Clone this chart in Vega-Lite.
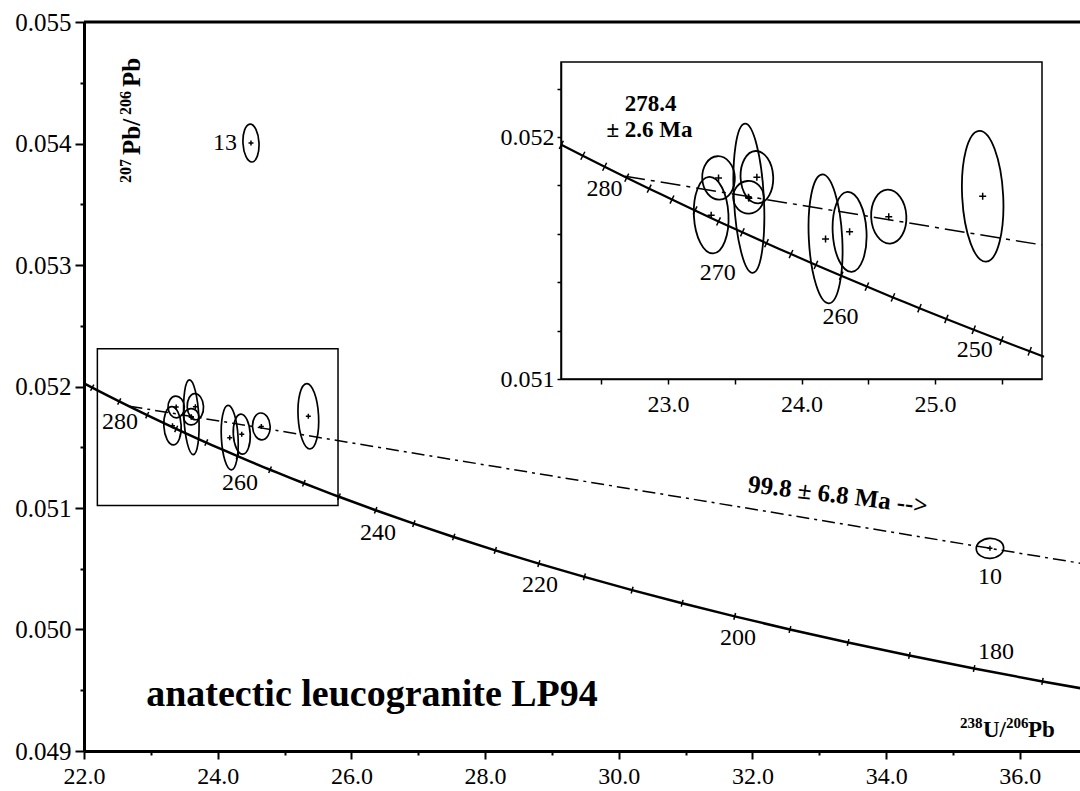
{
  "$schema": "https://vega.github.io/schema/vega-lite/v6.json",
  "autosize": "none",
  "width": 996,
  "height": 729,
  "padding": {"left": 84, "top": 22, "right": 0, "bottom": 40},
  "background": "white",
  "config": {
    "view": {"stroke": null},
    "axis": {"grid": false, "labelFont": "Liberation Serif", "labelColor": "black", "domainColor": "black", "tickColor": "black", "labelFontSize": 24},
    "text": {"font": "Liberation Serif", "color": "black"}
  },
  "datasets": {
    "concordia": [
      {"age": 290, "x": 21.7328, "y": 0.0521045},
      {"age": 286, "x": 22.0436, "y": 0.0520131},
      {"age": 285, "x": 22.1227, "y": 0.0519906},
      {"age": 284, "x": 22.2023, "y": 0.0519679},
      {"age": 282, "x": 22.3633, "y": 0.0519225},
      {"age": 280, "x": 22.5265, "y": 0.0518771},
      {"age": 278, "x": 22.6920, "y": 0.0518319},
      {"age": 276, "x": 22.8602, "y": 0.0517866},
      {"age": 275, "x": 22.9450, "y": 0.0517641},
      {"age": 274, "x": 23.0306, "y": 0.0517414},
      {"age": 272, "x": 23.2035, "y": 0.0516966},
      {"age": 270, "x": 23.3790, "y": 0.0516511},
      {"age": 268, "x": 23.5573, "y": 0.0516061},
      {"age": 266, "x": 23.7381, "y": 0.0515612},
      {"age": 265, "x": 23.8295, "y": 0.0515387},
      {"age": 264, "x": 23.9216, "y": 0.0515163},
      {"age": 262, "x": 24.1080, "y": 0.0514715},
      {"age": 260, "x": 24.2973, "y": 0.0514268},
      {"age": 258, "x": 24.4894, "y": 0.0513819},
      {"age": 256, "x": 24.6846, "y": 0.0513372},
      {"age": 255, "x": 24.7834, "y": 0.0513148},
      {"age": 254, "x": 24.8829, "y": 0.0512925},
      {"age": 252, "x": 25.0843, "y": 0.0512480},
      {"age": 250, "x": 25.2889, "y": 0.0512035},
      {"age": 248, "x": 25.4968, "y": 0.0511590},
      {"age": 246, "x": 25.7081, "y": 0.0511145},
      {"age": 245, "x": 25.8150, "y": 0.0510923},
      {"age": 240, "x": 26.3631, "y": 0.0509817},
      {"age": 235, "x": 26.9346, "y": 0.0508710},
      {"age": 230, "x": 27.5308, "y": 0.0507612},
      {"age": 225, "x": 28.1536, "y": 0.0506515},
      {"age": 220, "x": 28.8047, "y": 0.0505421},
      {"age": 215, "x": 29.4861, "y": 0.0504330},
      {"age": 210, "x": 30.1999, "y": 0.0503243},
      {"age": 205, "x": 30.9486, "y": 0.0502159},
      {"age": 200, "x": 31.7346, "y": 0.0501079},
      {"age": 195, "x": 32.5610, "y": 0.0500002},
      {"age": 190, "x": 33.4310, "y": 0.0498927},
      {"age": 185, "x": 34.3479, "y": 0.0497857},
      {"age": 180, "x": 35.3157, "y": 0.0496791},
      {"age": 175, "x": 36.3389, "y": 0.0495726},
      {"age": 170, "x": 37.4223, "y": 0.0494665}
    ],
    "ellipses": [
      {"id": "A", "x": 23.324, "y": 0.051677},
      {"id": "B", "x": 23.379, "y": 0.051831},
      {"id": "C", "x": 23.606, "y": 0.051747},
      {"id": "D", "x": 23.666, "y": 0.051834},
      {"id": "E", "x": 23.603, "y": 0.051751},
      {"id": "F", "x": 24.18, "y": 0.051579},
      {"id": "G", "x": 24.36, "y": 0.051608},
      {"id": "H", "x": 24.653, "y": 0.051671},
      {"id": "I", "x": 25.356, "y": 0.051755},
      {"id": "13", "x": 24.498, "y": 0.054004},
      {"id": "10", "x": 35.553, "y": 0.050668}
    ]
  },
  "resolve": {"scale": {"x": "independent", "y": "independent"}},
  "layer": [
    {
      "layer": [
        {
          "data": {"name": "concordia"},
          "mark": {"type": "line", "color": "black", "strokeWidth": 2.5, "clip": true},
          "encoding": {
            "x": {"field": "x", "type": "quantitative", "scale": {"domain": [22, 36.9], "nice": false, "zero": false},
              "axis": {"orient": "bottom", "title": null, "values": [22,24,26,28,30,32,34,36], "format": ".1f",
                "labelFont": "Liberation Serif", "labelFontSize": 24, "labelColor": "black",
                "tickSize": 8, "tickWidth": 2, "domainWidth": 3, "labelPadding": 5, "labelFlush": false, "labelOverlap": false}},
            "y": {"field": "y", "type": "quantitative", "scale": {"domain": [0.049, 0.055], "nice": false, "zero": false},
              "axis": {"orient": "left", "title": null, "values": [0.049,0.05,0.051,0.052,0.053,0.054,0.055], "format": ".3f",
                "labelFont": "Liberation Serif", "labelFontSize": 25, "labelColor": "black",
                "tickSize": 9, "tickWidth": 2, "domainWidth": 3, "labelPadding": 4, "labelFlush": false, "labelOverlap": false}},
            "order": {"field": "x", "type": "quantitative"}
          }
        },
        {
          "data": {"name": "concordia"},
          "transform": [{"filter": "datum.age % 5 == 0 && datum.x >= 22 && datum.x <= 36.9"}],
          "mark": {"type": "point", "shape": "M0,-1L0,1", "size": 49, "filled": false, "stroke": "black", "strokeWidth": 1.5, "opacity": 1},
          "encoding": {
            "x": {"field": "x", "type": "quantitative", "scale": {"domain": [22, 36.9], "nice": false, "zero": false}},
            "y": {"field": "y", "type": "quantitative", "scale": {"domain": [0.049, 0.055], "nice": false, "zero": false}},
            "angle": {"field": "age", "type": "quantitative", "scale": {"domain": [180, 280], "range": [11, 26.6]}, "legend": null}
          }
        },
        {
          "data": {"values": [{"x": 22.68, "y": 0.051838}, {"x": 36.9, "y": 0.050546}]},
          "mark": {"type": "line", "color": "black", "strokeWidth": 1.5, "strokeDash": [13, 5, 3, 5], "clip": true},
          "encoding": {
            "x": {"field": "x", "type": "quantitative", "scale": {"domain": [22, 36.9], "nice": false, "zero": false}},
            "y": {"field": "y", "type": "quantitative", "scale": {"domain": [0.049, 0.055], "nice": false, "zero": false}}
          }
        },
        {
          "data": {"values": [{"x1": 22.2, "x2": 25.8, "y1": 0.05102, "y2": 0.05231}]},
          "mark": {"type": "rect", "filled": false, "stroke": "black", "strokeWidth": 1.5},
          "encoding": {
            "x": {"field": "x1", "type": "quantitative", "scale": {"domain": [22, 36.9], "nice": false, "zero": false}},
            "x2": {"field": "x2"},
            "y": {"field": "y1", "type": "quantitative", "scale": {"domain": [0.049, 0.055], "nice": false, "zero": false}},
            "y2": {"field": "y2"}
          }
        },
        {
          "data": {"name": "ellipses"},
          "mark": {"type": "point", "size": 10000, "angle": -3, "filled": false, "stroke": "black", "strokeWidth": 1.7, "opacity": 1},
          "encoding": {
            "x": {"field": "x", "type": "quantitative", "scale": {"domain": [22, 36.9], "nice": false, "zero": false}},
            "y": {"field": "y", "type": "quantitative", "scale": {"domain": [0.049, 0.055], "nice": false, "zero": false}},
            "shape": {"field": "id", "type": "nominal", "legend": null, "scale": {
              "domain": ["A","B","C","D","E","F","G","H","I","13","10"],
              "range": [
                "M0.173,0C0.173,0.2115 0.0955,0.383 0,0.383C-0.0955,0.383 -0.173,0.2115 -0.173,0C-0.173,-0.2115 -0.0955,-0.383 0,-0.383C0.0955,-0.383 0.173,-0.2115 0.173,0Z",
                "M0.163,0C0.163,0.1198 0.09,0.217 0,0.217C-0.09,0.217 -0.163,0.1198 -0.163,0C-0.163,-0.1198 -0.09,-0.217 0,-0.217C0.09,-0.217 0.163,-0.1198 0.163,0Z",
                "M0.15,0C0.15,0.4126 0.0828,0.747 0,0.747C-0.0828,0.747 -0.15,0.4126 -0.15,0C-0.15,-0.4126 -0.0828,-0.747 0,-0.747C0.0828,-0.747 0.15,-0.4126 0.15,0Z",
                "M0.163,0C0.163,0.1447 0.09,0.262 0,0.262C-0.09,0.262 -0.163,0.1447 -0.163,0C-0.163,-0.1447 -0.09,-0.262 0,-0.262C0.09,-0.262 0.163,-0.1447 0.163,0Z",
                "M0.153,0C0.153,0.09 0.0845,0.163 0,0.163C-0.0845,0.163 -0.153,0.09 -0.153,0C-0.153,-0.09 -0.0845,-0.163 0,-0.163C0.0845,-0.163 0.153,-0.09 0.153,0Z",
                "M0.167,0C0.167,0.3562 0.0922,0.645 0,0.645C-0.0922,0.645 -0.167,0.3562 -0.167,0C-0.167,-0.3562 -0.0922,-0.645 0,-0.645C0.0922,-0.645 0.167,-0.3562 0.167,0Z",
                "M0.169,0C0.169,0.2209 0.0933,0.4 0,0.4C-0.0933,0.4 -0.169,0.2209 -0.169,0C-0.169,-0.2209 -0.0933,-0.4 0,-0.4C0.0933,-0.4 0.169,-0.2209 0.169,0Z",
                "M0.176,0C0.176,0.1491 0.0972,0.27 0,0.27C-0.0972,0.27 -0.176,0.1491 -0.176,0C-0.176,-0.1491 -0.0972,-0.27 0,-0.27C0.0972,-0.27 0.176,-0.1491 0.176,0Z",
                "M0.205,0C0.205,0.3618 0.1132,0.655 0,0.655C-0.1132,0.655 -0.205,0.3618 -0.205,0C-0.205,-0.3618 -0.1132,-0.655 0,-0.655C0.1132,-0.655 0.205,-0.3618 0.205,0Z",
                "M0.16,0C0.16,0.2099 0.0884,0.38 0,0.38C-0.0884,0.38 -0.16,0.2099 -0.16,0C-0.16,-0.2099 -0.0884,-0.38 0,-0.38C0.0884,-0.38 0.16,-0.2099 0.16,0Z",
                "M0.274,0C0.274,0.1105 0.1513,0.2 0,0.2C-0.1513,0.2 -0.274,0.1105 -0.274,0C-0.274,-0.1105 -0.1513,-0.2 0,-0.2C0.1513,-0.2 0.274,-0.1105 0.274,0Z"
              ]}}
          }
        },
        {
          "data": {"name": "ellipses"},
          "mark": {"type": "point", "shape": "M-1,0L1,0M0,-1L0,1", "size": 25, "filled": false, "stroke": "black", "strokeWidth": 1.5, "opacity": 1},
          "encoding": {
            "x": {"field": "x", "type": "quantitative", "scale": {"domain": [22, 36.9], "nice": false, "zero": false}},
            "y": {"field": "y", "type": "quantitative", "scale": {"domain": [0.049, 0.055], "nice": false, "zero": false}}
          }
        },
        {
          "data": {"values": [
            {"x": 22.5385, "y": 0.051708, "label": "280"},
            {"x": 24.334, "y": 0.051206, "label": "260"},
            {"x": 26.398, "y": 0.050794, "label": "240"},
            {"x": 28.821, "y": 0.050366, "label": "220"},
            {"x": 31.783, "y": 0.04993, "label": "200"},
            {"x": 35.643, "y": 0.049815, "label": "180"},
            {"x": 24.109, "y": 0.054004, "label": "13"},
            {"x": 35.553, "y": 0.050432, "label": "10"}
          ]},
          "mark": {"type": "text", "fontSize": 24, "font": "Liberation Serif"},
          "encoding": {
            "x": {"field": "x", "type": "quantitative", "scale": {"domain": [22, 36.9], "nice": false, "zero": false}},
            "y": {"field": "y", "type": "quantitative", "scale": {"domain": [0.049, 0.055], "nice": false, "zero": false}},
            "text": {"field": "label"}
          }
        },
        {
          "data": {"values": [{"x": 26.308, "y": 0.049461, "label": "anatectic leucogranite LP94"}]},
          "mark": {"type": "text", "fontSize": 38, "fontWeight": "bold", "font": "Liberation Serif"},
          "encoding": {
            "x": {"field": "x", "type": "quantitative", "scale": {"domain": [22, 36.9], "nice": false, "zero": false}},
            "y": {"field": "y", "type": "quantitative", "scale": {"domain": [0.049, 0.055], "nice": false, "zero": false}},
            "text": {"field": "label"}
          }
        },
        {
          "data": {"values": [{"x": 33.279, "y": 0.051107, "label": "99.8 ± 6.8 Ma -->"}]},
          "mark": {"type": "text", "fontSize": 25, "fontWeight": "bold", "angle": 7, "font": "Liberation Serif"},
          "encoding": {
            "x": {"field": "x", "type": "quantitative", "scale": {"domain": [22, 36.9], "nice": false, "zero": false}},
            "y": {"field": "y", "type": "quantitative", "scale": {"domain": [0.049, 0.055], "nice": false, "zero": false}},
            "text": {"field": "label"}
          }
        },
        {
          "data": {"values": [
            {"x": 22.838, "y": 0.053905, "label": "Pb/"},
            {"x": 22.838, "y": 0.054465, "label": "Pb"}
          ]},
          "mark": {"type": "text", "fontSize": 25, "fontWeight": "bold", "angle": -90, "align": "left", "baseline": "alphabetic", "font": "Liberation Serif"},
          "encoding": {
            "x": {"field": "x", "type": "quantitative", "scale": {"domain": [22, 36.9], "nice": false, "zero": false}},
            "y": {"field": "y", "type": "quantitative", "scale": {"domain": [0.049, 0.055], "nice": false, "zero": false}},
            "text": {"field": "label"}
          }
        },
        {
          "data": {"values": [
            {"x": 22.703, "y": 0.053675, "label": "207"},
            {"x": 22.703, "y": 0.054235, "label": "206"}
          ]},
          "mark": {"type": "text", "fontSize": 16, "fontWeight": "bold", "angle": -90, "align": "left", "baseline": "alphabetic", "font": "Liberation Serif"},
          "encoding": {
            "x": {"field": "x", "type": "quantitative", "scale": {"domain": [22, 36.9], "nice": false, "zero": false}},
            "y": {"field": "y", "type": "quantitative", "scale": {"domain": [0.049, 0.055], "nice": false, "zero": false}},
            "text": {"field": "label"}
          }
        },
        {
          "data": {"values": [
            {"x": 35.448, "y": 0.0491152, "label": "U/"},
            {"x": 36.121, "y": 0.0491152, "label": "Pb"}
          ]},
          "mark": {"type": "text", "fontSize": 23, "fontWeight": "bold", "align": "left", "baseline": "alphabetic", "font": "Liberation Serif"},
          "encoding": {
            "x": {"field": "x", "type": "quantitative", "scale": {"domain": [22, 36.9], "nice": false, "zero": false}},
            "y": {"field": "y", "type": "quantitative", "scale": {"domain": [0.049, 0.055], "nice": false, "zero": false}},
            "text": {"field": "label"}
          }
        },
        {
          "data": {"values": [
            {"x": 35.104, "y": 0.049189, "label": "238"},
            {"x": 35.792, "y": 0.049189, "label": "206"}
          ]},
          "mark": {"type": "text", "fontSize": 15, "fontWeight": "bold", "align": "left", "baseline": "alphabetic", "font": "Liberation Serif"},
          "encoding": {
            "x": {"field": "x", "type": "quantitative", "scale": {"domain": [22, 36.9], "nice": false, "zero": false}},
            "y": {"field": "y", "type": "quantitative", "scale": {"domain": [0.049, 0.055], "nice": false, "zero": false}},
            "text": {"field": "label"}
          }
        },
        {
          "data": {"values": [{"top": 0.055}]},
          "mark": {"type": "rule", "color": "black", "strokeWidth": 3},
          "encoding": {
            "y": {"field": "top", "type": "quantitative", "scale": {"domain": [0.049, 0.055], "nice": false, "zero": false}}
          }
        }
      ]
    },
    {
      "data": {"values": [{"x": 22, "y": 0.049}]},
      "mark": {"type": "point", "opacity": 0},
      "encoding": {
        "x": {"field": "x", "type": "quantitative", "scale": {"domain": [22, 36.9], "nice": false, "zero": false},
          "axis": {"orient": "bottom", "title": null, "values": [23,25,27,29,31,33,35], "labels": false, "domain": false, "tickSize": 4, "tickWidth": 2}},
        "y": {"field": "y", "type": "quantitative", "scale": {"domain": [0.049, 0.055], "nice": false, "zero": false},
          "axis": {"orient": "left", "title": null, "values": [0.0495,0.0505,0.0515,0.0525,0.0535,0.0545], "labels": false, "domain": false, "tickSize": 4, "tickWidth": 2}}
      }
    },
    {
      "layer": [
        {
          "data": {"values": [{"x1": 22.2, "x2": 25.8, "y1": 0.051, "y2": 0.05231}]},
          "mark": {"type": "rect", "filled": false, "stroke": "black", "strokeWidth": 1.5},
          "encoding": {
            "x": {"field": "x1", "type": "quantitative", "scale": {"domain": [22.2, 25.8], "range": [477, 958], "nice": false, "zero": false},
              "axis": {"orient": "bottom", "offset": -372, "title": null, "values": [22.5,23,23.5,24,24.5,25,25.5],
                "labelExpr": "datum.value % 1 == 0 ? format(datum.value, '.1f') : ''",
                "labelFont": "Liberation Serif", "labelFontSize": 24, "labelColor": "black",
                "tickSize": 5, "tickWidth": 1.5, "domainWidth": 1.5, "labelPadding": 8, "labelFlush": false, "labelOverlap": false}},
            "x2": {"field": "x2"},
            "y": {"field": "y1", "type": "quantitative", "scale": {"domain": [0.051, 0.05231], "range": [357, 40], "nice": false, "zero": false},
              "axis": {"orient": "left", "offset": -477, "title": null, "values": [0.051,0.0512,0.0514,0.0516,0.0518,0.052,0.0522],
                "labelExpr": "abs(datum.value*1000 - round(datum.value*1000)) < 0.01 ? format(datum.value, '.3f') : ''",
                "labelFont": "Liberation Serif", "labelFontSize": 24, "labelColor": "black",
                "tickSize": 4, "tickWidth": 1.5, "domainWidth": 1.5, "labelPadding": 3, "labelFlush": false, "labelOverlap": false}},
            "y2": {"field": "y2"}
          }
        },
        {
          "data": {"name": "concordia"},
          "transform": [{"filter": "datum.age >= 245 && datum.age <= 284"}],
          "mark": {"type": "line", "color": "black", "strokeWidth": 2.2},
          "encoding": {
            "x": {"field": "x", "type": "quantitative", "scale": {"domain": [22.2, 25.8], "range": [477, 958], "nice": false, "zero": false}},
            "y": {"field": "y", "type": "quantitative", "scale": {"domain": [0.051, 0.05231], "range": [357, 40], "nice": false, "zero": false}},
            "order": {"field": "x", "type": "quantitative"}
          }
        },
        {
          "data": {"name": "concordia"},
          "transform": [{"filter": "datum.age % 2 == 0 && datum.age >= 246 && datum.age <= 284"}],
          "mark": {"type": "point", "shape": "M0,-1L0,1", "size": 81, "filled": false, "stroke": "black", "strokeWidth": 1.5, "opacity": 1},
          "encoding": {
            "x": {"field": "x", "type": "quantitative", "scale": {"domain": [22.2, 25.8], "range": [477, 958], "nice": false, "zero": false}},
            "y": {"field": "y", "type": "quantitative", "scale": {"domain": [0.051, 0.05231], "range": [357, 40], "nice": false, "zero": false}},
            "angle": {"field": "age", "type": "quantitative", "scale": {"domain": [180, 280], "range": [11, 26.6]}, "legend": null}
          }
        },
        {
          "data": {"values": [{"x": 22.68, "y": 0.051838}, {"x": 25.8, "y": 0.051554}]},
          "mark": {"type": "line", "color": "black", "strokeWidth": 1.5, "strokeDash": [20, 6, 4, 6]},
          "encoding": {
            "x": {"field": "x", "type": "quantitative", "scale": {"domain": [22.2, 25.8], "range": [477, 958], "nice": false, "zero": false}},
            "y": {"field": "y", "type": "quantitative", "scale": {"domain": [0.051, 0.05231], "range": [357, 40], "nice": false, "zero": false}}
          }
        },
        {
          "data": {"name": "ellipses"},
          "transform": [{"filter": "datum.x < 26 && datum.y < 0.0523"}],
          "mark": {"type": "point", "size": 40000, "angle": -3, "filled": false, "stroke": "black", "strokeWidth": 1.8, "opacity": 1},
          "encoding": {
            "x": {"field": "x", "type": "quantitative", "scale": {"domain": [22.2, 25.8], "range": [477, 958], "nice": false, "zero": false}},
            "y": {"field": "y", "type": "quantitative", "scale": {"domain": [0.051, 0.05231], "range": [357, 40], "nice": false, "zero": false}},
            "shape": {"field": "id", "type": "nominal", "legend": null, "scale": {
              "domain": ["A","B","C","D","E","F","G","H","I","13","10"],
              "range": [
                "M0.173,0C0.173,0.2115 0.0955,0.383 0,0.383C-0.0955,0.383 -0.173,0.2115 -0.173,0C-0.173,-0.2115 -0.0955,-0.383 0,-0.383C0.0955,-0.383 0.173,-0.2115 0.173,0Z",
                "M0.163,0C0.163,0.1198 0.09,0.217 0,0.217C-0.09,0.217 -0.163,0.1198 -0.163,0C-0.163,-0.1198 -0.09,-0.217 0,-0.217C0.09,-0.217 0.163,-0.1198 0.163,0Z",
                "M0.15,0C0.15,0.4126 0.0828,0.747 0,0.747C-0.0828,0.747 -0.15,0.4126 -0.15,0C-0.15,-0.4126 -0.0828,-0.747 0,-0.747C0.0828,-0.747 0.15,-0.4126 0.15,0Z",
                "M0.163,0C0.163,0.1447 0.09,0.262 0,0.262C-0.09,0.262 -0.163,0.1447 -0.163,0C-0.163,-0.1447 -0.09,-0.262 0,-0.262C0.09,-0.262 0.163,-0.1447 0.163,0Z",
                "M0.153,0C0.153,0.09 0.0845,0.163 0,0.163C-0.0845,0.163 -0.153,0.09 -0.153,0C-0.153,-0.09 -0.0845,-0.163 0,-0.163C0.0845,-0.163 0.153,-0.09 0.153,0Z",
                "M0.167,0C0.167,0.3562 0.0922,0.645 0,0.645C-0.0922,0.645 -0.167,0.3562 -0.167,0C-0.167,-0.3562 -0.0922,-0.645 0,-0.645C0.0922,-0.645 0.167,-0.3562 0.167,0Z",
                "M0.169,0C0.169,0.2209 0.0933,0.4 0,0.4C-0.0933,0.4 -0.169,0.2209 -0.169,0C-0.169,-0.2209 -0.0933,-0.4 0,-0.4C0.0933,-0.4 0.169,-0.2209 0.169,0Z",
                "M0.176,0C0.176,0.1491 0.0972,0.27 0,0.27C-0.0972,0.27 -0.176,0.1491 -0.176,0C-0.176,-0.1491 -0.0972,-0.27 0,-0.27C0.0972,-0.27 0.176,-0.1491 0.176,0Z",
                "M0.205,0C0.205,0.3618 0.1132,0.655 0,0.655C-0.1132,0.655 -0.205,0.3618 -0.205,0C-0.205,-0.3618 -0.1132,-0.655 0,-0.655C0.1132,-0.655 0.205,-0.3618 0.205,0Z",
                "M0.16,0C0.16,0.2099 0.0884,0.38 0,0.38C-0.0884,0.38 -0.16,0.2099 -0.16,0C-0.16,-0.2099 -0.0884,-0.38 0,-0.38C0.0884,-0.38 0.16,-0.2099 0.16,0Z",
                "M0.274,0C0.274,0.1105 0.1513,0.2 0,0.2C-0.1513,0.2 -0.274,0.1105 -0.274,0C-0.274,-0.1105 -0.1513,-0.2 0,-0.2C0.1513,-0.2 0.274,-0.1105 0.274,0Z"
              ]}}
          }
        },
        {
          "data": {"name": "ellipses"},
          "transform": [{"filter": "datum.x < 26 && datum.y < 0.0523"}],
          "mark": {"type": "point", "shape": "M-1,0L1,0M0,-1L0,1", "size": 49, "filled": false, "stroke": "black", "strokeWidth": 1.5, "opacity": 1},
          "encoding": {
            "x": {"field": "x", "type": "quantitative", "scale": {"domain": [22.2, 25.8], "range": [477, 958], "nice": false, "zero": false}},
            "y": {"field": "y", "type": "quantitative", "scale": {"domain": [0.051, 0.05231], "range": [357, 40], "nice": false, "zero": false}}
          }
        },
        {
          "data": {"values": [
            {"x": 22.526, "y": 0.051787, "label": "280"},
            {"x": 23.373, "y": 0.051436, "label": "270"},
            {"x": 24.291, "y": 0.051255, "label": "260"},
            {"x": 25.296, "y": 0.05112, "label": "250"}
          ]},
          "mark": {"type": "text", "fontSize": 24, "font": "Liberation Serif"},
          "encoding": {
            "x": {"field": "x", "type": "quantitative", "scale": {"domain": [22.2, 25.8], "range": [477, 958], "nice": false, "zero": false}},
            "y": {"field": "y", "type": "quantitative", "scale": {"domain": [0.051, 0.05231], "range": [357, 40], "nice": false, "zero": false}},
            "text": {"field": "label"}
          }
        },
        {
          "data": {"values": [
            {"x": 22.871, "y": 0.052135, "label": "278.4"},
            {"x": 22.862, "y": 0.052031, "label": "± 2.6 Ma"}
          ]},
          "mark": {"type": "text", "fontSize": 23, "fontWeight": "bold", "font": "Liberation Serif"},
          "encoding": {
            "x": {"field": "x", "type": "quantitative", "scale": {"domain": [22.2, 25.8], "range": [477, 958], "nice": false, "zero": false}},
            "y": {"field": "y", "type": "quantitative", "scale": {"domain": [0.051, 0.05231], "range": [357, 40], "nice": false, "zero": false}},
            "text": {"field": "label"}
          }
        }
      ]
    }
  ]
}
